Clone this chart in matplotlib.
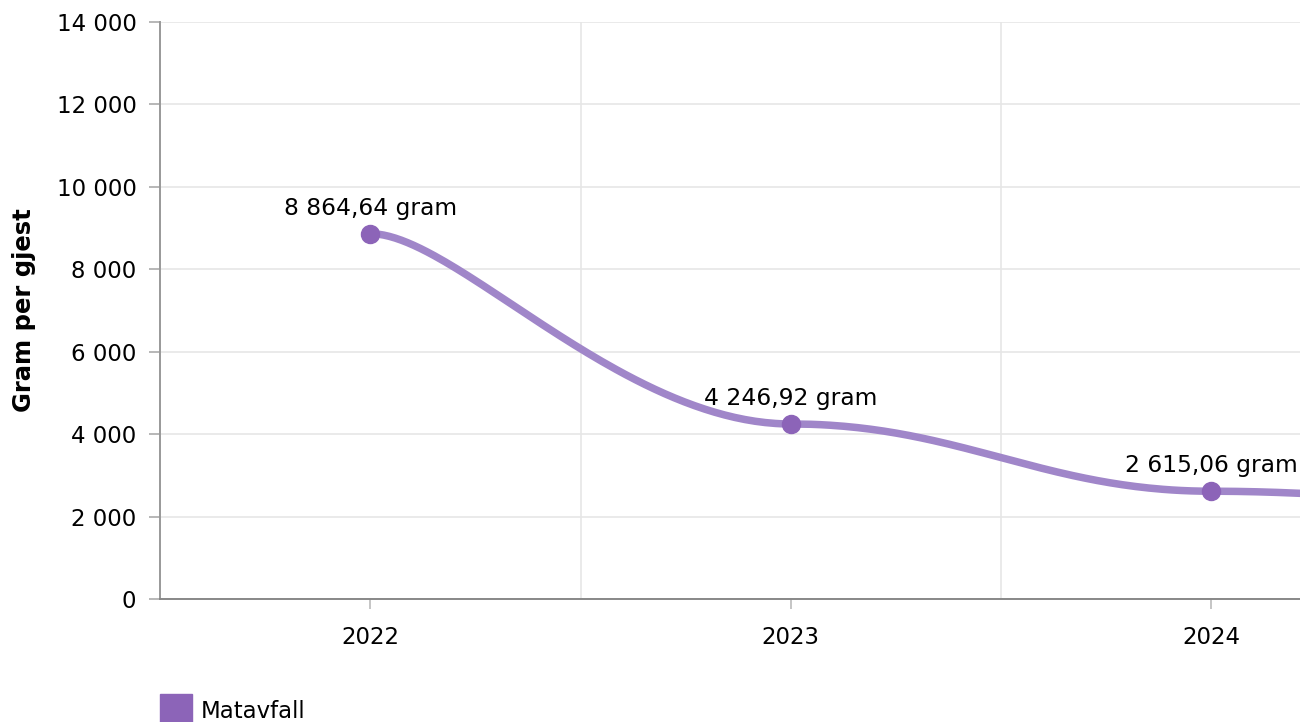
import numpy as np
import matplotlib
matplotlib.use("Agg")
import matplotlib.pyplot as plt
from matplotlib.patches import Rectangle

# ---- data ----
categories = ["2022", "2023", "2024", "2025"]
values = [8864.64, 4246.92, 2615.06, 2000.0]   # last point lies outside the visible range
labels = ["8 864,64 gram", "4 246,92 gram", "2 615,06 gram", ""]
series_name = "Matavfall"
yticks = [0, 2000, 4000, 6000, 8000, 10000, 12000, 14000]
ytick_labels = ["0", "2 000", "4 000", "6 000", "8 000", "10 000", "12 000", "14 000"]
y_title = "Gram per gjest"

LINE = "#a086c9"
MARK = "#8c64b8"
FS = 16.5

plt.rcParams['font.family'] = ['DejaVu Sans']

W, H = 1300, 722
fig = plt.figure(figsize=(W / 100, H / 100), dpi=100)
L, R, T, B = 160, 1300, 22, 599
ax = fig.add_axes([L / W, 1 - B / H, (R - L) / W, (B - T) / H])

x = np.arange(len(values), dtype=float)
y = np.array(values, dtype=float)

# tension smoothing (horizontal tension 0.8, no vertical smoothing)
kx, ky = 1 - 0.8 + 1e-5, 1 - 1.0 + 1e-5
px, py = [], []
t = np.linspace(0, 1, 100)
n = len(x)
for i in range(n - 1):
    i0 = i - 1 if i > 0 else i
    i3 = i + 2 if i + 2 < n else i + 1
    p0, p1, p2, p3 = (x[i0], y[i0]), (x[i], y[i]), (x[i + 1], y[i + 1]), (x[i3], y[i3])
    ca = (p1[0] + (p2[0] - p0[0]) * kx, p1[1] + (p2[1] - p0[1]) * ky)
    cb = (p2[0] - (p3[0] - p1[0]) * kx, p2[1] - (p3[1] - p1[1]) * ky)
    bx = (1 - t) ** 3 * p1[0] + 3 * t * (1 - t) ** 2 * ca[0] + 3 * t ** 2 * (1 - t) * cb[0] + t ** 3 * p2[0]
    by = (1 - t) ** 3 * p1[1] + 3 * t * (1 - t) ** 2 * ca[1] + 3 * t ** 2 * (1 - t) * cb[1] + t ** 3 * p2[1]
    px.extend(bx); py.extend(by)

ax.plot(px, py, color=LINE, lw=5.4, solid_capstyle='butt', zorder=3)
ax.plot(x, y, 'o', color=MARK, ms=13, mec=MARK, zorder=4)
for xi, yi, lab in zip(x, y, labels):
    if lab:
        ax.annotate(lab, (xi, yi), xytext=(0, 10), textcoords='offset points',
                    ha='center', va='bottom', fontsize=FS + 0.3, color='black', zorder=5,
                    annotation_clip=False)

ax.set_xlim(-0.5, -0.5 + (R - L) / 420.5)
ax.set_ylim(0, 14000)

ax.set_yticks(yticks)
ax.set_yticklabels(ytick_labels)
ax.set_xticks(x[:3])
ax.set_xticklabels(categories[:3])
ax.set_xticks([0.5, 1.5], minor=True)

ax.grid(axis='y', which='major', color='#e6e6e6', lw=1.2, zorder=0)
ax.grid(axis='x', which='minor', color='#e6e6e6', lw=1.2, zorder=0)
ax.tick_params(axis='x', which='minor', length=0)
ax.tick_params(axis='x', which='major', length=7.5, width=1.2, color='#bbbbbb',
               labelsize=FS, pad=12)
ax.tick_params(axis='y', length=8, width=1.2, color='#aaaaaa', labelsize=FS, pad=9)

for s in ['top', 'right']:
    ax.spines[s].set_visible(False)
ax.spines['left'].set_color('#999999')
ax.spines['left'].set_linewidth(1.4)
ax.spines['bottom'].set_color('#888888')
ax.spines['bottom'].set_linewidth(1.4)

ax.set_ylabel(y_title, fontsize=17.5, fontweight='bold')
ax.yaxis.set_label_coords(-(160 - 36) / (R - L), 0.5)

# legend
fig.patches.append(Rectangle((160 / W, 1 - 722 / H), 32 / W, 28 / H,
                             transform=fig.transFigure, color=MARK, zorder=5))
fig.text(201 / W, 1 - 711 / H, series_name, fontsize=FS, va='center', ha='left')

fig.savefig("out.png", dpi=100)
